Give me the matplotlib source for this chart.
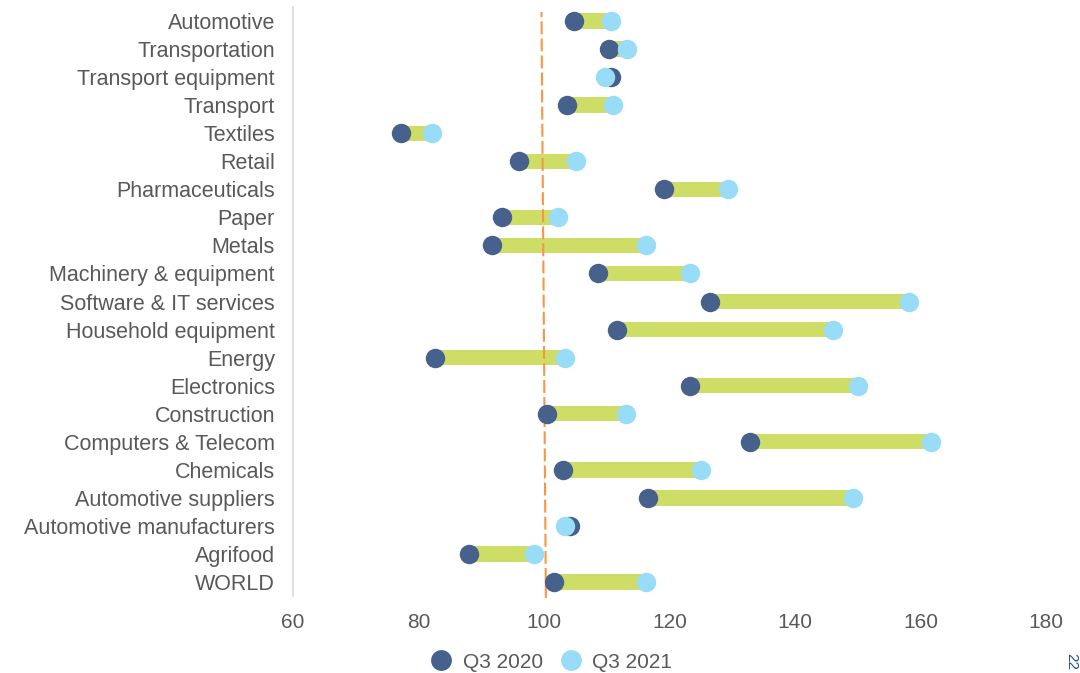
#!/usr/bin/env python3
"""Dumbbell chart: sector index Q3 2020 vs Q3 2021."""

import matplotlib
matplotlib.use("Agg")
import matplotlib.pyplot as plt
from matplotlib.lines import Line2D

plt.rcParams["font.family"] = ["Liberation Sans", "DejaVu Sans"]

# top to bottom as shown
sectors = [
    "Automotive", "Transportation", "Transport equipment", "Transport",
    "Textiles", "Retail", "Pharmaceuticals", "Paper", "Metals",
    "Machinery & equipment", "Software & IT services", "Household equipment",
    "Energy", "Electronics", "Construction", "Computers & Telecom",
    "Chemicals", "Automotive suppliers", "Automotive manufacturers",
    "Agrifood", "WORLD",
]
q3_2020 = [104.8, 110.4, 110.6, 103.7, 77.2, 96.0, 119.2, 93.3, 91.7,
           108.6, 126.5, 111.7, 82.6, 123.3, 100.5, 132.9, 103.1, 116.6,
           104.2, 88.1, 101.6]
q3_2021 = [110.7, 113.3, 109.7, 111.0, 82.2, 105.1, 129.4, 102.3, 116.3,
           123.2, 158.1, 146.1, 103.4, 150.1, 113.1, 161.6, 125.1, 149.3,
           103.4, 98.4, 116.3]
ref_line_x = [100.3, 99.6]  # reference line, bottom -> top
x_ticks = [60, 80, 100, 120, 140, 160, 180]

DARK = "#46618C"
LIGHT = "#99DCF7"
GREEN = "#CEDD66"
TEXT = "#595959"

fig = plt.figure(figsize=(10.8, 6.73), dpi=100)
fig.patch.set_facecolor("white")
ax = fig.add_axes([0.2713, 0.1144, 0.6972, 0.8752])

n = len(sectors)
ypos = [n - 1 - i for i in range(n)]

lefts = [min(a, b) for a, b in zip(q3_2020, q3_2021)]
widths = [abs(b - a) for a, b in zip(q3_2020, q3_2021)]
ax.barh(ypos, widths, left=lefts, height=0.55, color=GREEN, zorder=2)

ax.plot(ref_line_x, [-0.57, n - 1 + 0.32], color="#F79646", linestyle=(0, (6.2, 2.0)),
        linewidth=1.5, zorder=3, clip_on=False)

ax.plot(q3_2020, ypos, "o", color=DARK, markersize=14, markeredgewidth=0, zorder=4)
ax.plot(q3_2021, ypos, "o", color=LIGHT, markersize=14, markeredgewidth=0, zorder=5)

ax.set_xlim(60, 180)
ax.set_ylim(-0.5, n - 0.5)
ax.set_yticks(ypos)
ax.set_yticklabels(sectors, fontsize=15.5, color=TEXT)
ax.set_xticks(x_ticks)
ax.set_xticklabels([str(t) for t in x_ticks], fontsize=15, color=TEXT)
ax.tick_params(axis="both", length=0)
ax.tick_params(axis="y", pad=13)
ax.tick_params(axis="x", pad=12)

for side in ("top", "right", "bottom"):
    ax.spines[side].set_visible(False)
ax.spines["left"].set_color("#D9D9D9")
ax.spines["left"].set_linewidth(1.2)

handles = [
    Line2D([], [], marker="o", linestyle="", color=DARK, markersize=15, markeredgewidth=0),
    Line2D([], [], marker="o", linestyle="", color=LIGHT, markersize=15, markeredgewidth=0),
]
fig.legend(handles, ["Q3 2020", "Q3 2021"], loc="center", bbox_to_anchor=(0.506, 0.016),
           ncol=2, frameon=False, fontsize=15, labelcolor=TEXT,
           handletextpad=0.05, columnspacing=0.3, borderaxespad=0)

fig.text(0.992, 0.005, "22", rotation=270, color="#1F4E99", fontsize=11,
         ha="center", va="bottom")

fig.savefig("out.png", dpi=100, facecolor="white", edgecolor="none")
plt.close(fig)
